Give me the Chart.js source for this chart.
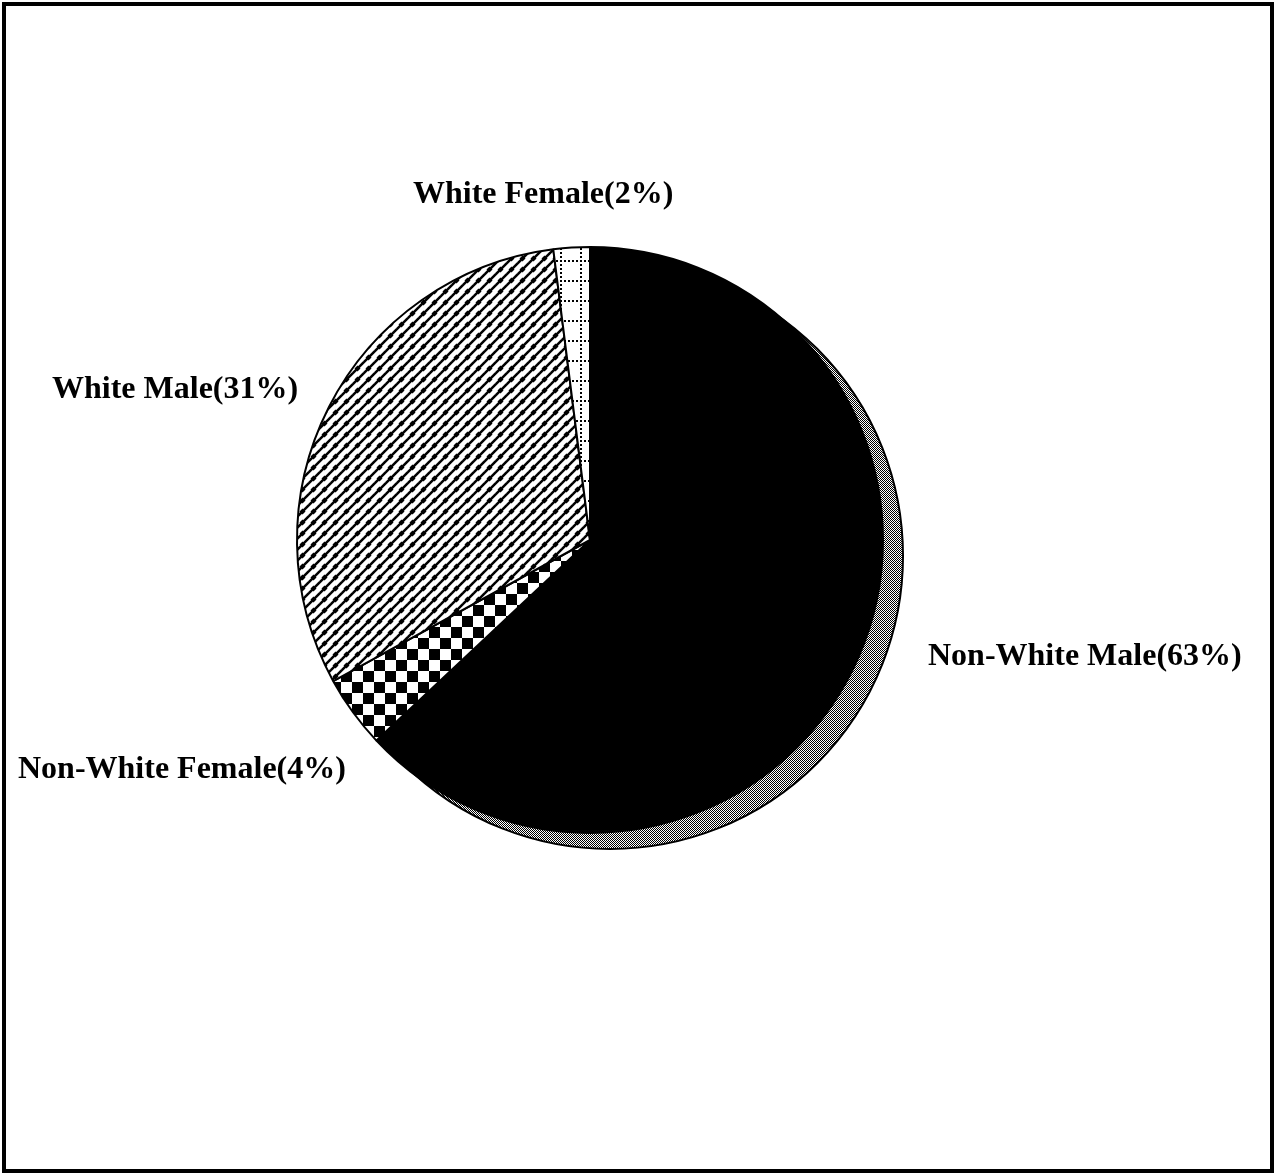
<!DOCTYPE html>
<html>
<head>
<meta charset="utf-8">
<script src="https://cdn.jsdelivr.net/npm/chart.js@4.4.0/dist/chart.umd.min.js"></script>
<style>
  html, body { margin: 0; padding: 0; background: #fff; }
  canvas { display: block; }
</style>
</head>
<body>
<canvas id="pieChart" width="1276" height="1174"></canvas>
<script>
// data (clockwise from 12 o'clock)
const categories = ['Non-White Male', 'Non-White Female', 'White Male', 'White Female'];
const shares = [63, 4, 31, 2];
const labelTexts = ['Non-White Male(63%)', 'Non-White Female(4%)', 'White Male(31%)', 'White Female(2%)'];

// label anchors (left x, middle y), in page pixels
const labelSpots = [[928, 657], [18, 770], [52, 390], [413, 195]];

function makePattern(w, h, draw) {
  const c = document.createElement('canvas');
  c.width = w; c.height = h;
  const g = c.getContext('2d');
  g.fillStyle = '#fff';
  g.fillRect(0, 0, w, h);
  g.fillStyle = '#000';
  g.strokeStyle = '#000';
  draw(g);
  return document.getElementById('pieChart').getContext('2d').createPattern(c, 'repeat');
}

const checker = makePattern(22, 22, g => {
  g.fillRect(0, 0, 11, 11);
  g.fillRect(11, 11, 11, 11);
});

// beaded 45 degree lines
const hatch = makePattern(11, 11, g => {
  g.lineWidth = 2.5;
  [-11, 0, 11].forEach(k => {
    g.beginPath();
    g.moveTo(k - 2, 13);
    g.lineTo(k + 13, -2);
    g.stroke();
  });
  g.beginPath();
  g.moveTo(5.5, 2.5); g.lineTo(8.5, 5.5); g.lineTo(5.5, 8.5); g.lineTo(2.5, 5.5);
  g.closePath();
  g.fill();
});

const dots = makePattern(20, 20, g => {
  for (let i = 0; i < 20; i += 4) {
    g.fillRect(0, i, 2, 2);
    g.fillRect(i, 0, 2, 2);
  }
});

const shade = makePattern(2, 2, g => {
  g.fillRect(0, 0, 1, 1);
  g.fillRect(1, 1, 1, 1);
});

const fills = ['#000', checker, hatch, dots];

const shadowPlugin = {
  id: 'shadow',
  beforeDatasetsDraw(chart) {
    const arc = chart.getDatasetMeta(0).data[0];
    if (!arc) return;
    const ctx = chart.ctx;
    ctx.save();
    ctx.beginPath();
    ctx.arc(arc.x + 20, arc.y + 16, arc.outerRadius, 0, Math.PI * 2);
    ctx.fillStyle = shade;
    ctx.fill();
    ctx.lineWidth = 2;
    ctx.strokeStyle = '#000';
    ctx.stroke();
    ctx.restore();
  }
};

const labelPlugin = {
  id: 'sliceLabels',
  afterDraw(chart) {
    const ctx = chart.ctx;
    ctx.save();
    ctx.font = 'bold 32px "Liberation Serif", "Times New Roman", serif';
    ctx.fillStyle = '#000';
    ctx.textAlign = 'left';
    ctx.textBaseline = 'middle';
    labelTexts.forEach((t, i) => {
      ctx.fillText(t, labelSpots[i][0], labelSpots[i][1]);
    });
    // frame round the page
    ctx.lineWidth = 4;
    ctx.strokeStyle = '#000';
    ctx.strokeRect(4, 4, 1268, 1167);
    ctx.restore();
  }
};

new Chart(document.getElementById('pieChart'), {
  type: 'pie',
  data: {
    labels: categories,
    datasets: [{
      data: shares,
      backgroundColor: fills,
      borderColor: '#000',
      borderWidth: 2
    }]
  },
  options: {
    responsive: false,
    animation: false,
    layout: { padding: { left: 296, top: 246, right: 392, bottom: 340 } },
    plugins: {
      legend: { display: false },
      tooltip: { enabled: false }
    }
  },
  plugins: [shadowPlugin, labelPlugin]
});
</script>
</body>
</html>
